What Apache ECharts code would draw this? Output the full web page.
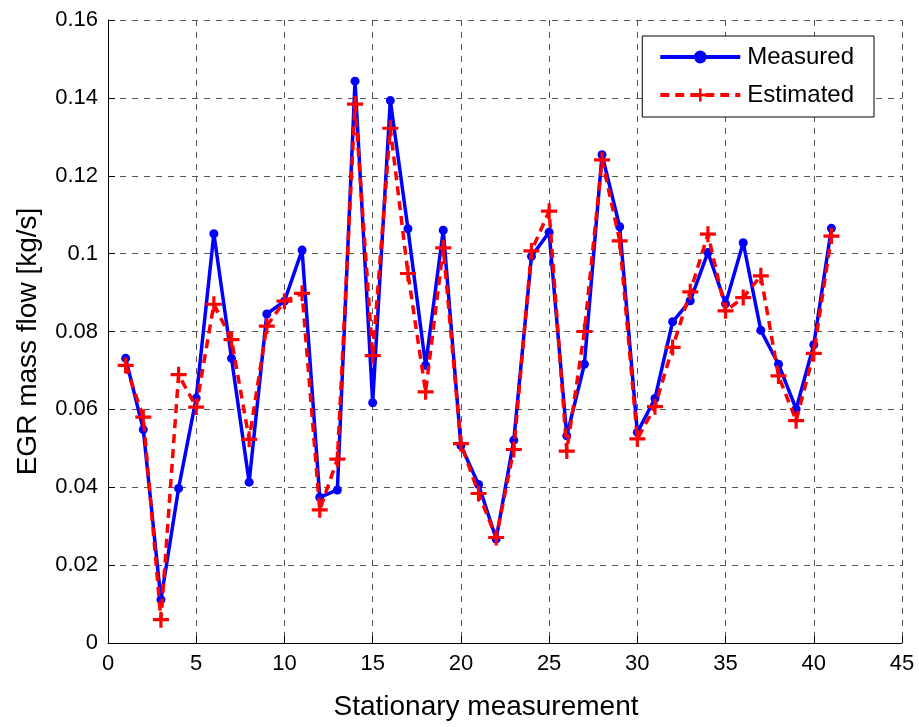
<!DOCTYPE html>
<html>
<head>
<meta charset="utf-8">
<script src="https://cdn.jsdelivr.net/npm/echarts@6/dist/echarts.min.js"></script>
<style>
  html, body { margin: 0; padding: 0; background: #fff; }
  #chart { width: 919px; height: 727px; }
</style>
</head>
<body>
<div id="chart"></div>
<script>
// measurement index 1..41
const measurementIdx = [];
for (let i = 1; i <= 41; i++) measurementIdx.push(i);

const measured = [
  0.0731, 0.0548, 0.0111, 0.0397, 0.0629, 0.1051, 0.0731, 0.0413, 0.0845, 0.0878,
  0.1009, 0.0374, 0.0393, 0.1443, 0.0617, 0.1393, 0.1064, 0.0713, 0.1060, 0.0507,
  0.0407, 0.0267, 0.0521, 0.0993, 0.1055, 0.0532, 0.0716, 0.1254, 0.1069, 0.0541,
  0.0628, 0.0825, 0.0879, 0.1003, 0.0871, 0.1028, 0.0803, 0.0716, 0.0601, 0.0766,
  0.1065
];

const estimated = [
  0.0713, 0.0580, 0.0060, 0.0689, 0.0606, 0.0870, 0.0779, 0.0523, 0.0814, 0.0878,
  0.0898, 0.0342, 0.0472, 0.1384, 0.0738, 0.1322, 0.0949, 0.0645, 0.1015, 0.0512,
  0.0384, 0.0271, 0.0497, 0.1007, 0.1109, 0.0493, 0.0800, 0.1241, 0.1033, 0.0524,
  0.0607, 0.0759, 0.0902, 0.1050, 0.0853, 0.0887, 0.0943, 0.0686, 0.0571, 0.0744,
  0.1045
];

const pairs = (ys) => ys.map((v, i) => [measurementIdx[i], v]);

const chart = echarts.init(document.getElementById('chart'));
const font = 'Liberation Sans, Arial, sans-serif';
const gridLine = { show: true, lineStyle: { color: '#555', type: [6, 6], width: 1 } };
// plus marker as filled polygon
const plus = 'path://M4,0H6V4H10V6H6V10H4V6H0V4H4Z';

const option = {
  animation: false,
  textStyle: { fontFamily: font, color: '#000' },
  grid: { left: 108, right: 17, top: 20, bottom: 84 },
  legend: {
    right: 45,
    top: 36,
    orient: 'vertical',
    backgroundColor: '#fff',
    borderColor: '#000',
    borderWidth: 1,
    borderRadius: 0,
    padding: [9, 20, 10, 16],
    itemWidth: 80,
    itemHeight: 16,
    itemGap: 14,
    lineStyle: { width: 4 },
    textStyle: { fontSize: 24, color: '#000', fontFamily: font, padding: [0, 0, 0, 2] },
    data: ['Measured', 'Estimated']
  },
  xAxis: {
    type: 'value',
    min: 0,
    max: 45,
    interval: 5,
    name: 'Stationary measurement',
    nameLocation: 'middle',
    nameGap: 50,
    nameTextStyle: { fontSize: 28, color: '#000', padding: [0, 38, 0, 0] },
    axisLine: { onZero: false, lineStyle: { color: '#000', width: 1 } },
    axisTick: { inside: true, length: 7, lineStyle: { color: '#000' } },
    axisLabel: { fontSize: 22, color: '#000', margin: 10 },
    splitLine: gridLine
  },
  yAxis: {
    type: 'value',
    min: 0,
    max: 0.16,
    interval: 0.02,
    name: 'EGR mass flow [kg/s]',
    nameLocation: 'middle',
    nameGap: 66,
    nameTextStyle: { fontSize: 28, color: '#000', padding: [0, 20, 0, 0] },
    axisLine: { show: true, lineStyle: { color: '#000', width: 1 } },
    axisTick: { show: true, inside: true, length: 7, lineStyle: { color: '#000' } },
    axisLabel: { fontSize: 22, color: '#000', margin: 10 },
    splitLine: gridLine
  },
  series: [
    {
      name: 'Measured',
      type: 'line',
      data: pairs(measured),
      symbol: 'circle',
      symbolSize: 9,
      itemStyle: { color: '#0000ff' },
      lineStyle: { color: '#0000ff', width: 3.5 },
      z: 2
    },
    {
      name: 'Estimated',
      type: 'line',
      data: pairs(estimated),
      symbol: plus,
      symbolSize: 16,
      itemStyle: { color: '#ff0000' },
      lineStyle: { color: '#ff0000', width: 3.5, type: [9, 6] },
      z: 3
    }
  ]
};

chart.setOption(option);
window.addEventListener('resize', () => chart.resize());
</script>
</body>
</html>
